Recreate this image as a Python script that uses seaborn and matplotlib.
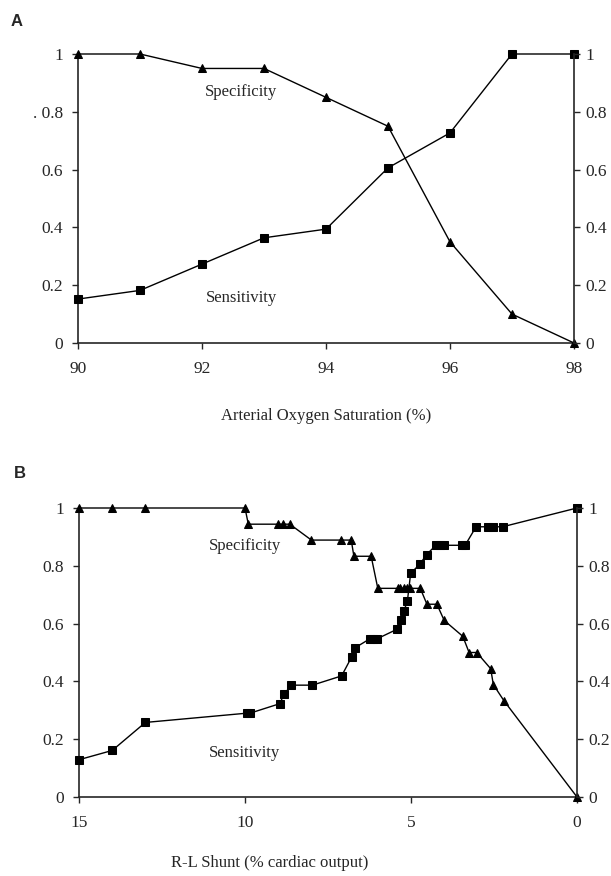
import seaborn as sns
import matplotlib.pyplot as plt
import pandas as pd

# Panel A: arterial oxygen saturation thresholds
sat_x = [90, 91, 92, 93, 94, 95, 96, 97, 98]
sat_spec = [1.0, 1.0, 0.95, 0.95, 0.85, 0.75, 0.35, 0.10, 0.0]
sat_sens = [0.152, 0.182, 0.273, 0.364, 0.394, 0.606, 0.727, 1.0, 1.0]

# Panel B: R-L shunt thresholds
shunt_spec_x = [15, 14, 13, 10, 9.9, 9.0, 8.85, 8.65, 8.0, 7.1, 6.8, 6.72, 6.2, 6.0,
                5.4, 5.32, 5.22, 5.12, 5.02, 4.72, 4.52, 4.22, 4.0, 3.44, 3.25,
                3.02, 2.6, 2.52, 2.2, 0]
shunt_spec = [1, 1, 1, 1, 0.944, 0.944, 0.944, 0.944, 0.889, 0.889, 0.889, 0.833,
              0.833, 0.722, 0.722, 0.722, 0.722, 0.722, 0.722, 0.722, 0.667, 0.667,
              0.611, 0.556, 0.5, 0.5, 0.444, 0.389, 0.333, 0]
shunt_sens_x = [15, 14, 13, 9.95, 9.85, 8.95, 8.83, 8.6, 7.97, 7.09, 6.79, 6.69,
                6.23, 6.13, 6.01, 5.41, 5.31, 5.21, 5.11, 5.01, 4.73, 4.53, 4.25,
                4.13, 4.0, 3.47, 3.37, 3.04, 2.67, 2.54, 2.24, 0]
shunt_sens = [0.129, 0.161, 0.258, 0.290, 0.290, 0.323, 0.355, 0.387, 0.387, 0.419,
              0.484, 0.516, 0.548, 0.548, 0.548, 0.581, 0.613, 0.645, 0.677, 0.774,
              0.806, 0.839, 0.871, 0.871, 0.871, 0.871, 0.871, 0.935, 0.935, 0.935,
              0.935, 1.0]

y_ticks = [0, 0.2, 0.4, 0.6, 0.8, 1]
y_labels_a = ['0', '0.2', '0.4', '0.6', '. 0.8', '1']
y_labels = ['0', '0.2', '0.4', '0.6', '0.8', '1']

sns.set_style('ticks')
plt.rcParams['font.family'] = ['Liberation Serif', 'DejaVu Serif']

fig = plt.figure(figsize=(6.11, 8.76), dpi=100)
ax_a = fig.add_axes([78 / 611, 1 - 343 / 876, 496 / 611, 289 / 876])
ax_b = fig.add_axes([79 / 611, 1 - 797 / 876, 498 / 611, 289 / 876])


def draw_curve(ax, x, y, marker, ms):
    df = pd.DataFrame({'x': x, 'y': y})
    sns.lineplot(data=df, x='x', y='y', ax=ax, sort=False, estimator=None,
                 color='black', linewidth=1.0, marker=marker, markersize=ms,
                 markeredgecolor='black', markerfacecolor='black', clip_on=False,
                 zorder=5)


def style_axes(ax, xticks, xlabels, left_labels):
    ax.set_ylim(0, 1)
    ax.set_yticks(y_ticks)
    ax.set_yticklabels(left_labels)
    ax.set_xticks(xticks)
    ax.set_xticklabels(xlabels)
    ax.tick_params(axis='y', direction='out', length=4, width=1, labelsize=12.5, pad=7)
    ax.tick_params(axis='x', direction='out', length=4, width=1, labelsize=12.5, pad=9)
    ax.spines['top'].set_visible(False)
    ax.spines['right'].set_visible(False)
    for s in ['left', 'bottom']:
        ax.spines[s].set_linewidth(1.2)
    ax.set_ylabel('')
    # right-hand axis repeats the 0-1 scale
    rx = ax.twinx()
    rx.set_ylim(0, 1)
    rx.set_yticks(y_ticks)
    rx.set_yticklabels(y_labels)
    rx.tick_params(axis='y', direction='out', length=4, width=1, labelsize=12.5, pad=4)
    for s in ['top', 'left', 'bottom']:
        rx.spines[s].set_visible(False)
    rx.spines['right'].set_linewidth(1.2)
    return rx


# Panel A
draw_curve(ax_a, sat_x, sat_spec, '^', 6)
draw_curve(ax_a, sat_x, sat_sens, 's', 5.5)
ax_a.set_xlim(90, 98)
style_axes(ax_a, [90, 92, 94, 96, 98], ['90', '92', '94', '96', '98'], y_labels_a)
ax_a.set_xlabel('Arterial Oxygen Saturation (%)', fontsize=12, labelpad=22)
ax_a.text(92.63, 0.868, 'Specificity', fontsize=12, ha='center', va='center')
ax_a.text(92.64, 0.156, 'Sensitivity', fontsize=12, ha='center', va='center')

# Panel B
draw_curve(ax_b, shunt_spec_x, shunt_spec, '^', 6)
draw_curve(ax_b, shunt_sens_x, shunt_sens, 's', 5.5)
ax_b.set_xlim(15, 0)
style_axes(ax_b, [15, 10, 5, 0], ['15', '10', '5', '0'], y_labels)
ax_b.set_xlabel('R-L Shunt (% cardiac output)', fontsize=12)
ax_b.xaxis.set_label_coords((270 - 79) / 498, -0.2)
ax_b.text(10.0, 0.868, 'Specificity', fontsize=12, ha='center', va='center')
ax_b.text(10.0, 0.153, 'Sensitivity', fontsize=12, ha='center', va='center')

fig.text(17 / 611, 1 - 21 / 876, 'A', fontsize=12, fontweight='bold',
         family='Liberation Sans', ha='center', va='center')
fig.text(20 / 611, 1 - 473 / 876, 'B', fontsize=12, fontweight='bold',
         family='Liberation Sans', ha='center', va='center')

fig.savefig('out.png', dpi=100)
